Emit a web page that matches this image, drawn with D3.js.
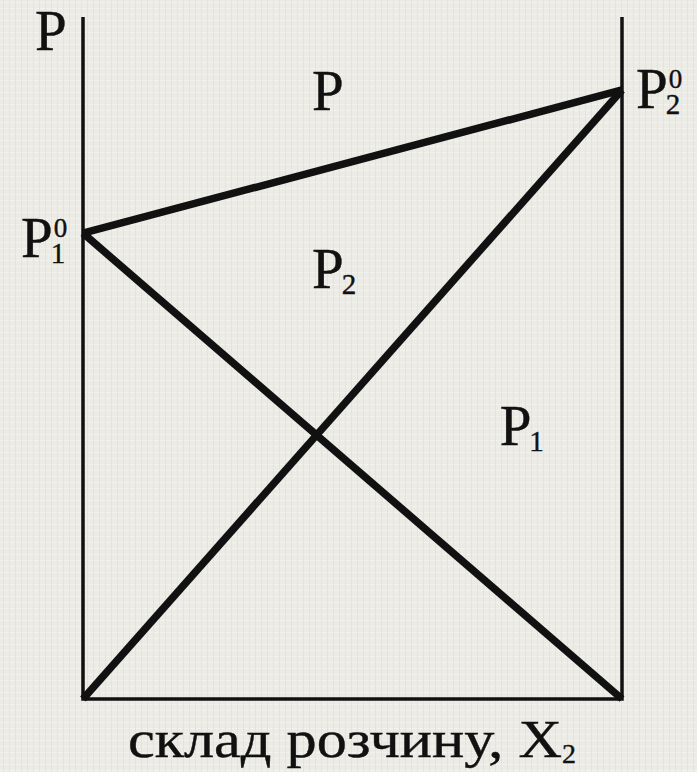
<!DOCTYPE html>
<meta charset="utf-8">
<head>
  <title>P - X2 diagram</title>
</head>
<style>
  body { margin: 0; background: #ecebe5; }
</style>
<body>
  <svg width="697" height="772"></svg>

  <script src="https://cdn.jsdelivr.net/npm/d3@7/dist/d3.min.js"></script>
  <script>
    // composition of the solution, mole fraction X2
    var composition = [0, 1];
    // partial and total pressures at X2 = 0 and X2 = 1
    var pressure1 = [0.683, 0];
    var pressure2 = [0, 0.893];
    var pressureTotal = [0.683, 0.893];
    var axisTop = 1;

    var serif = "Liberation Serif";

    var svg = d3.select("svg"),
        width = +svg.attr("width"),
        height = +svg.attr("height");

    // canvas-like background texture
    var defs = svg.append("defs");
    var pat = defs.append("pattern")
        .attr("id", "cloth")
        .attr("width", 6).attr("height", 6)
        .attr("patternUnits", "userSpaceOnUse");
    pat.append("rect").attr("width", 6).attr("height", 6).attr("fill", "#ecebe5");
    pat.append("rect").attr("x", 0).attr("y", 2).attr("width", 6).attr("height", 1).attr("fill", "#f3f3ee");
    pat.append("rect").attr("x", 3).attr("y", 0).attr("width", 1).attr("height", 6).attr("fill", "#e4e3dc");
    svg.append("rect").attr("width", width).attr("height", height).attr("fill", "url(#cloth)");

    var x = d3.scaleLinear().domain([0, 1]).range([83, 622]);
    var y = d3.scaleLinear().domain([0, axisTop]).range([699, 17]);

    // frame: two vertical axes and the bottom line
    var g = svg.append("g");
    g.append("path")
        .attr("d", d3.line()([[x(0), y(axisTop)], [x(0), y(0)], [x(1), y(0)], [x(1), y(axisTop)]]))
        .attr("fill", "none")
        .attr("stroke", "#111")
        .attr("stroke-width", 3.5);

    var line = d3.line()
        .x(function(d) { return x(d[0]); })
        .y(function(d) { return y(d[1]); });

    [pressureTotal, pressure1, pressure2].forEach(function(series) {
      g.append("path")
          .datum(d3.zip(composition, series))
          .attr("d", line)
          .attr("fill", "none")
          .attr("stroke", "#111")
          .attr("stroke-width", 7.5)
          .attr("stroke-linejoin", "round");
    });

    // label with optional subscript / superscript, as one text element
    function label(px, py, main, sub, sup) {
      var t = svg.append("text")
          .attr("x", px).attr("y", py)
          .attr("font-family", serif)
          .attr("font-size", 57)
          .attr("fill", "#111")
          .attr("stroke", "#111")
          .attr("stroke-width", 0.4);
      t.append("tspan").text(main);
      var w = t.node().getComputedTextLength();
      if (sup) {
        t.append("tspan").attr("x", px + w + 1).attr("y", py - 20)
            .attr("font-size", 27).text(sup);
      }
      if (sub) {
        t.append("tspan").attr("x", px + w - 2).attr("y", py + 6)
            .attr("font-size", 29).text(sub);
      }
    }

    label(35, 50, "P");
    label(x(0) - 62, y(pressureTotal[0]) + 24, "P", "1", "0");
    label(x(1) + 14, y(pressureTotal[1]) + 18, "P", "2", "0");
    label(x(0.425), y(0.864), "P");
    label(x(0.425), y(0.603), "P", "2");
    label(x(0.773), y(0.372), "P", "1");

    // x-axis title
    var title = svg.append("text")
        .attr("x", 128).attr("y", 757)
        .attr("font-family", serif)
        .attr("font-size", 52)
        .attr("fill", "#111")
        .attr("stroke", "#111")
        .attr("stroke-width", 0.4);
    title.append("tspan")
        .attr("textLength", 434)
        .attr("lengthAdjust", "spacingAndGlyphs")
        .text("склад розчину, X");
    title.append("tspan").attr("x", 562).attr("y", 763).attr("font-size", 28).text("2");
  </script>
</body>
</html>
